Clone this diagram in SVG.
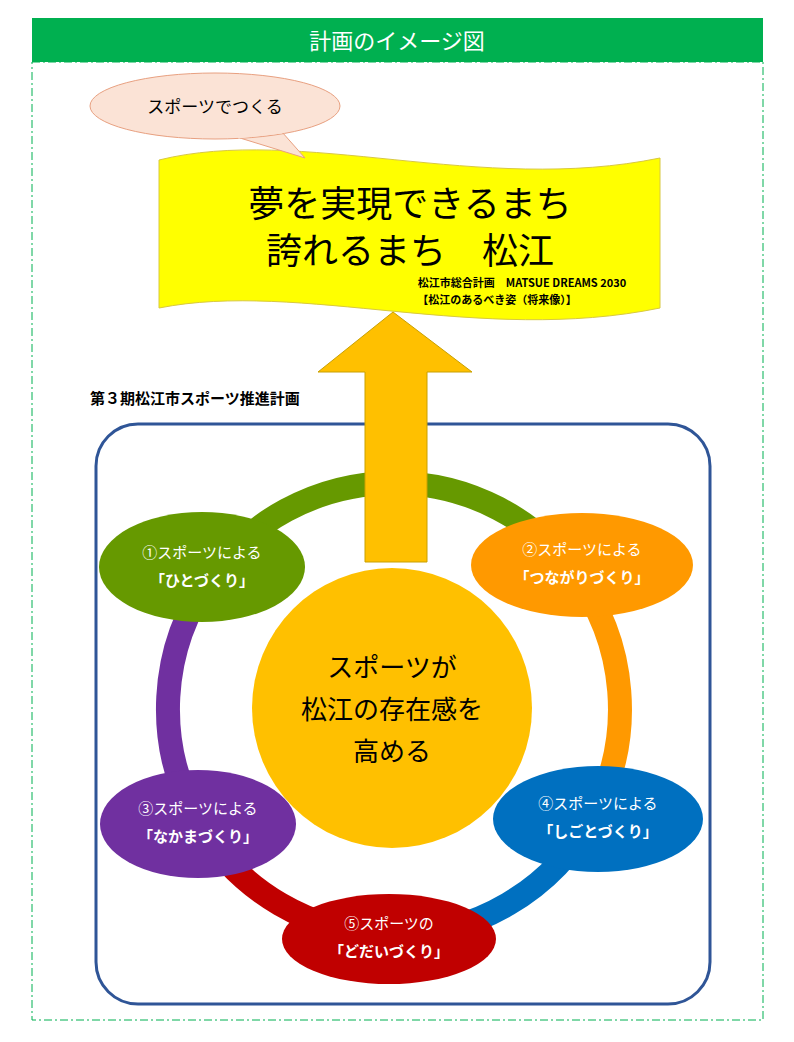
<svg xmlns="http://www.w3.org/2000/svg" width="794" height="1042" viewBox="0 0 794 1042">
<style>
text{font-family:"Noto Sans CJK JP","Noto Sans",sans-serif;text-anchor:middle}
.w{fill:#fff;font-size:15px}
.wb{fill:#fff;font-size:15px;font-weight:bold}
.ring{fill:none;stroke-width:24}
</style>
<rect width="794" height="1042" fill="#fff"/>
<g id="frame">
<rect x="32" y="62" width="731" height="958" fill="none" stroke="#00B050" stroke-dasharray="8,3,2,3" stroke-width="1"/>
<rect x="32" y="18" width="731" height="44" fill="#00B050"/>
<text x="397" y="49" fill="#fff" font-size="22">計画のイメージ図</text>
</g>
<g id="flag">
<path d="M159,160 C300,125 480,195 660,158 L660,308 C480,345 300,280 159,308 Z" fill="#FFFF00" stroke="#D8C840" stroke-width="1"/>
<text x="410" y="217" font-size="36">夢を実現できるまち</text>
<text x="410" y="264" font-size="36">誇れるまち　松江</text>
<text x="522" y="287" font-size="11" font-weight="bold">松江市総合計画　MATSUE DREAMS 2030</text>
<text x="497" y="304" font-size="11" font-weight="bold">【松江のあるべき姿（将来像）】</text>
</g>
<g id="callout">
<path d="M240,138 L305,158 L282,132 Z" fill="#FBE3D6" stroke="#E8A080"/>
<ellipse cx="215" cy="106" rx="125" ry="33" fill="#FBE3D6" stroke="#E8A080"/>
<path d="M238,137 L282,132" stroke="#FBE3D6" stroke-width="3"/>
<text x="215" y="113" font-size="17">スポーツでつくる</text>
</g>
<text x="90" y="404" font-size="15" font-weight="bold" style="text-anchor:start">第３期松江市スポーツ推進計画</text>
<g id="box"><rect x="96" y="424" width="614" height="580" rx="42" fill="none" stroke="#2F5597" stroke-width="3"/></g>
<g id="connectors">
<path class="ring" stroke="#669900" d="M212.3,574.5 A226,226 0 0 1 573.3,571.4"/>
<path class="ring" stroke="#FF9900" d="M573.3,571.4 A226,226 0 0 1 592.9,816.1"/>
<path class="ring" stroke="#0070C0" d="M592.9,816.1 A226,226 0 0 1 390,935"/>
<path class="ring" stroke="#C00000" d="M390,935 A226,226 0 0 1 199.1,823.4"/>
<path class="ring" stroke="#7030A0" d="M199.1,823.4 A226,226 0 0 1 212.3,574.5"/>
</g>
<g id="arrow"><path d="M365,562 L365,372 L318,372 L393,312 L472,372 L427,372 L427,562 Z" fill="#FFC000" stroke="#C9A000" stroke-width="1"/></g>
<g id="center"><circle cx="392" cy="708" r="140" fill="#FFC000"/>
<text x="392" y="677" font-size="26">スポーツが</text>
<text x="392" y="719" font-size="26">松江の存在感を</text>
<text x="392" y="761" font-size="26">高める</text></g>
<g id="n1"><ellipse cx="202" cy="567" rx="103" ry="55" fill="#669900"/><text class="w" x="202" y="558">①スポーツによる</text><text class="wb" x="202" y="586">「ひとづくり」</text></g>
<g id="n2"><ellipse cx="582" cy="565" rx="111" ry="52" fill="#FF9900"/><text class="w" x="582" y="555">②スポーツによる</text><text class="wb" x="582" y="583">「つながりづくり」</text></g>
<g id="n3"><ellipse cx="198" cy="824" rx="98" ry="54" fill="#7030A0"/><text class="w" x="198" y="814">③スポーツによる</text><text class="wb" x="198" y="842">「なかまづくり」</text></g>
<g id="n4"><ellipse cx="598" cy="819" rx="105" ry="53" fill="#0070C0"/><text class="w" x="598" y="809">④スポーツによる</text><text class="wb" x="598" y="837">「しごとづくり」</text></g>
<g id="n5"><ellipse cx="389" cy="939" rx="107" ry="45" fill="#C00000"/><text class="w" x="389" y="929">⑤スポーツの</text><text class="wb" x="389" y="957">「どだいづくり」</text></g>
</svg>
